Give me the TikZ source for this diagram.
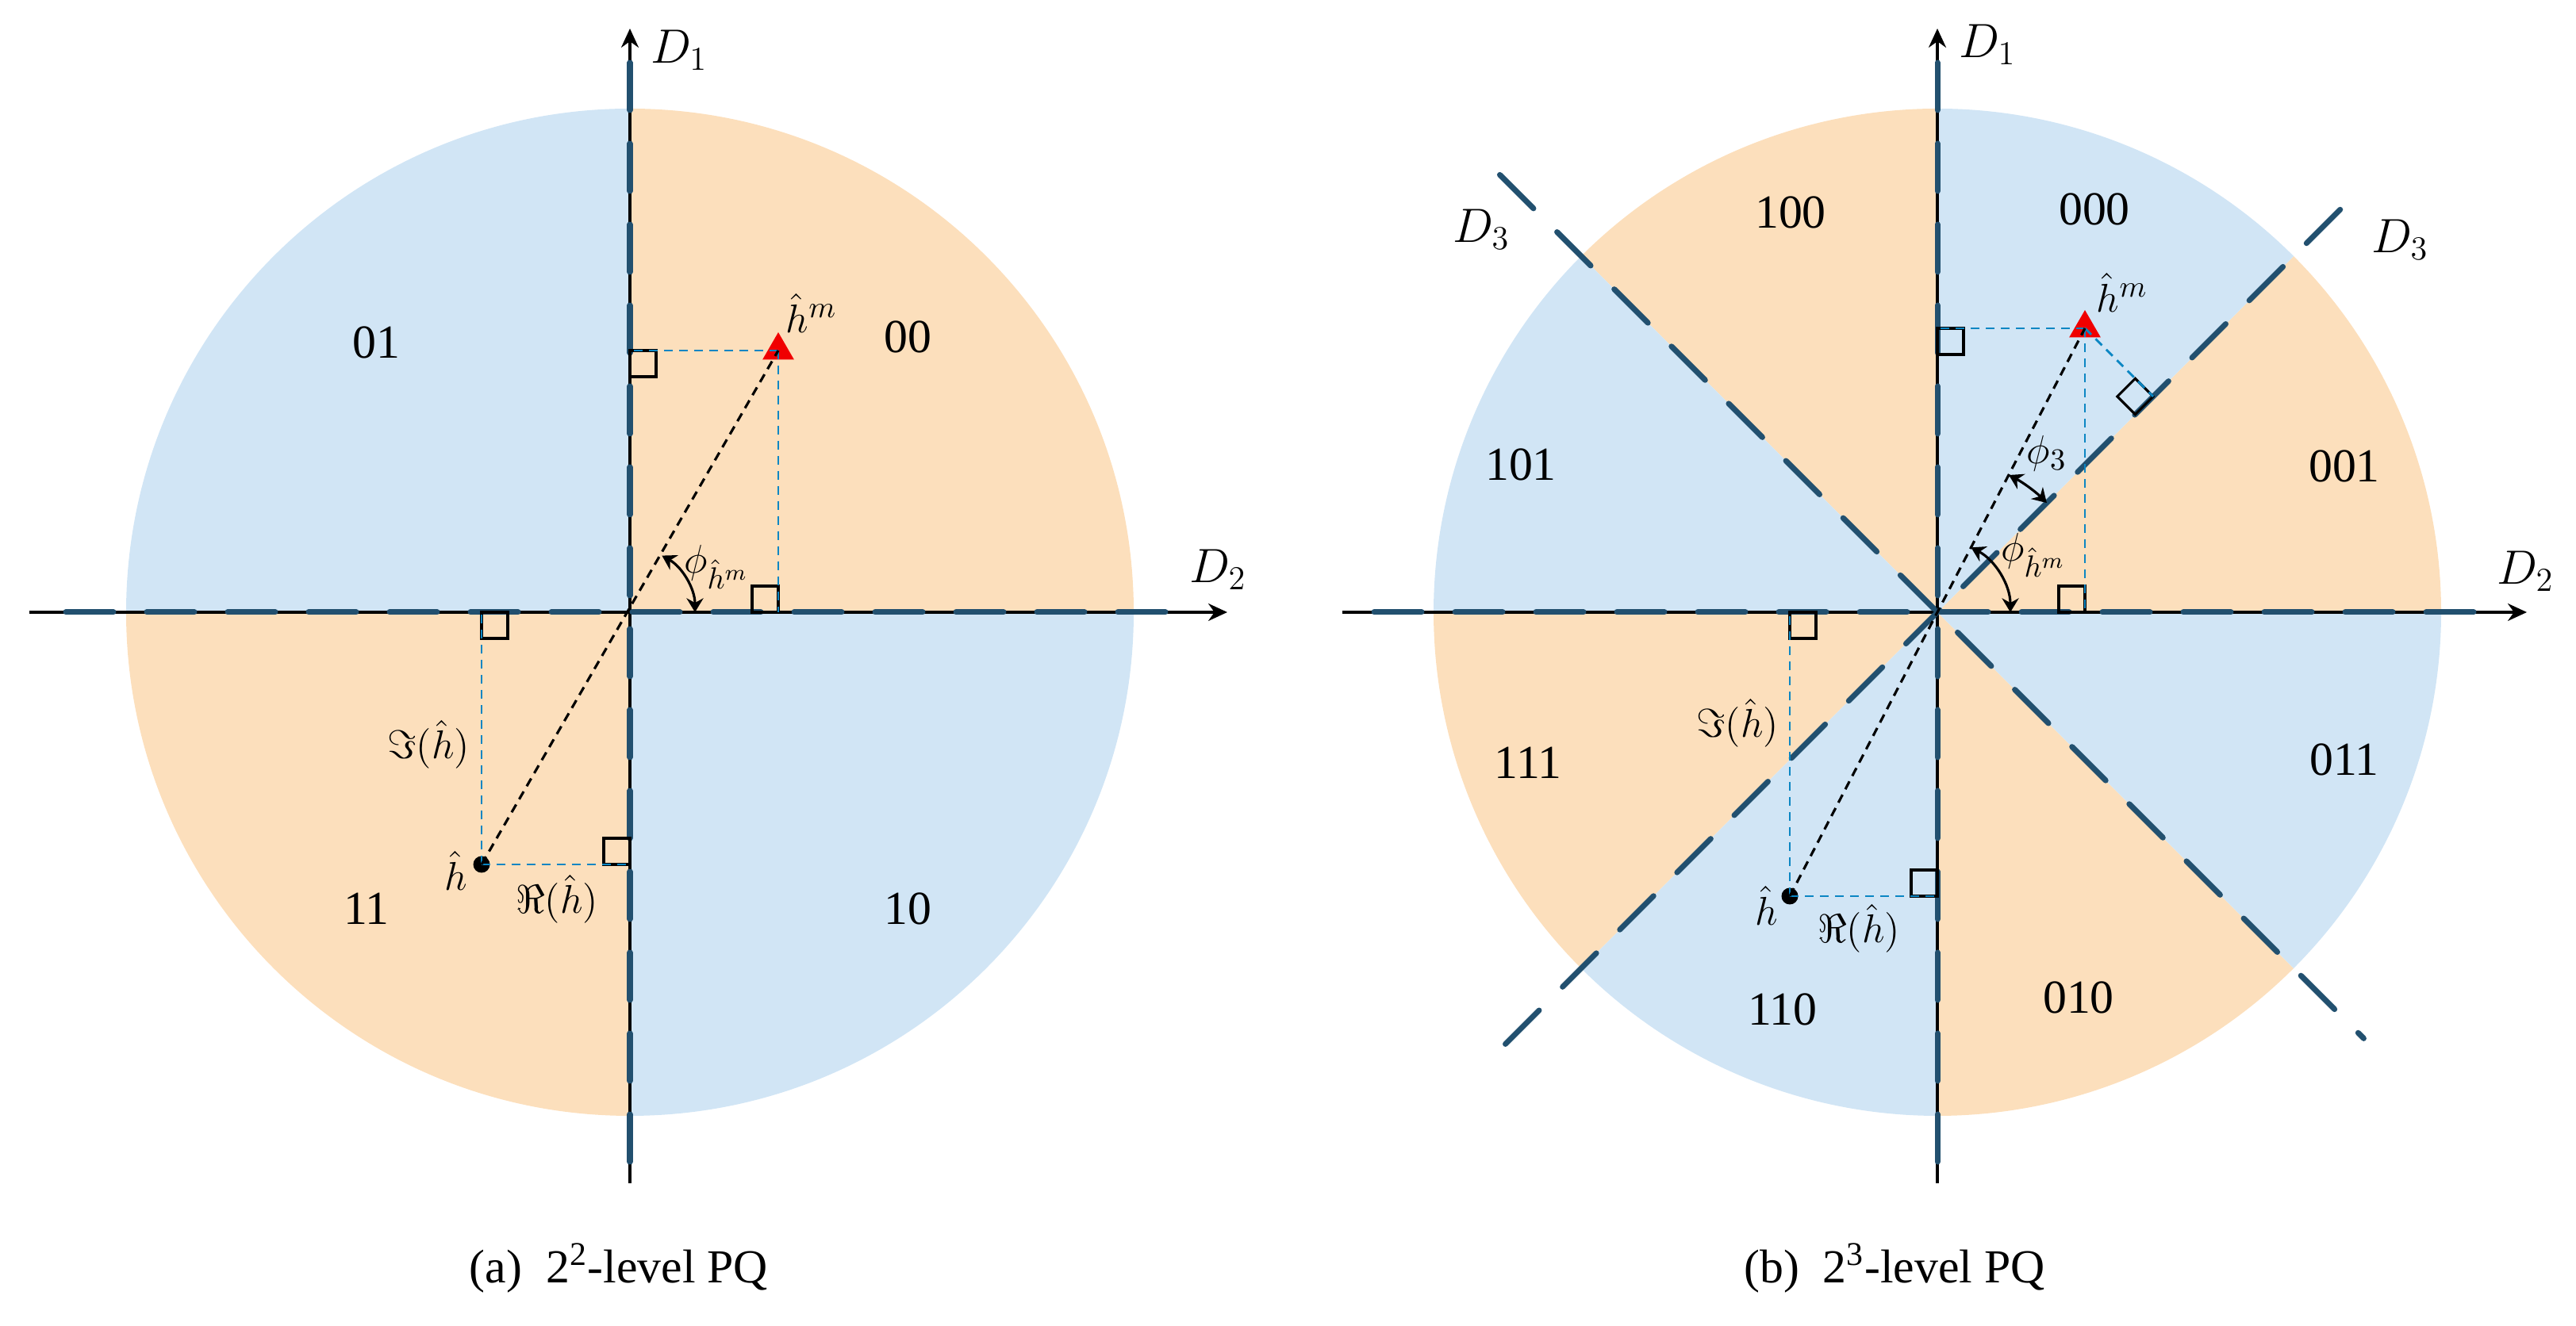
\documentclass[tikz,border=0pt]{standalone}
\usepackage[no-math]{fontspec}
\setmainfont{Liberation Serif}
\usepackage{xcolor}
\definecolor{sblue}{HTML}{D1E5F5}
\definecolor{sorange}{HTML}{FCDFBC}
\definecolor{divblue}{HTML}{22506F}
\definecolor{projblue}{HTML}{0B86C3}
\definecolor{markred}{HTML}{F00000}
\usepackage{amsmath}
\usepackage{tikz}
\usetikzlibrary{arrows.meta, positioning, shapes.geometric, calc}

\begin{document}
\begin{tikzpicture}[
  axis/.style={line width=0.9pt, -{Stealth[length=0.24cm, width=0.22cm]}},
  divline/.style={divblue, line width=2pt, line cap=round, dash pattern=on 0.6cm off 0.42cm},
  proj/.style={projblue, line width=0.8pt, dash pattern=on 3.2pt off 2.2pt},
  radial/.style={black, line width=0.9pt, dash pattern=on 3.2pt off 2.2pt},
  rmark/.style={black, line width=0.9pt},
  angarc/.style={line width=0.9pt, {Stealth[length=5pt, width=6pt]}-{Stealth[length=5pt, width=6pt]}},
  code/.style={font=\fontsize{17}{20}\selectfont},
  axlabel/.style={font=\fontsize{18}{22}\selectfont},
  mlabel/.style={font=\fontsize{15.5}{18}\selectfont},
  est/.style={regular polygon, regular polygon sides=3, fill=markred, inner sep=0pt, minimum size=0.46cm},
  meas/.style={circle, fill=black, inner sep=0pt, minimum size=0.21cm},
  caption/.style={font=\fontsize{17}{20}\selectfont}
]

\useasboundingbox (0,0) rectangle (32.47,16.72);
\def\R{6.35}

% (a) 2^2-level
\begin{scope}[shift={(7.94,9.0)}]
\coordinate (Oa) at (0,0);
% Sectors
\foreach \a/\c in {0/sorange, 90/sblue, 180/sorange, 270/sblue}
  \fill[\c] (Oa) -- (\a:\R) arc[start angle=\a, delta angle=90, radius=\R] -- cycle;

% Axes
\coordinate (xla) at (-7.57,0);
\coordinate (xra) at (7.53,0);
\coordinate (yba) at (0,-7.2);
\coordinate (yta) at (0,7.36);
\draw[axis] (xla) -- (xra);
\draw[axis] (yba) -- (yta);

% Boundaries
\draw[divline] (-7.11,0) -- (6.84,0);
\draw[divline] (0,6.93) -- (0,-6.99);

% Codewords
\node[code] (c00) at (3.50,3.47) {00};
\node[code] (c01) at (-3.20,3.40) {01};
\node[code] (c11) at (-3.32,-3.74) {11};
\node[code] (c10) at (3.50,-3.74) {10};

% Points
\node[est] (hma) at (1.87,3.30) {};
\node[meas] (ha) at (-1.87,-3.18) {};

% Right angles
\draw[rmark] (hma.center -| Oa) rectangle ++(0.33,-0.33);
\draw[rmark] (hma.center |- Oa) rectangle ++(-0.33,0.33);
\draw[rmark] (ha.center |- Oa) rectangle ++(0.33,-0.33);
\draw[rmark] (ha.center -| Oa) rectangle ++(-0.33,0.33);

% Projections
\draw[proj] (hma.center) -- (hma.center -| Oa);
\draw[proj] (hma.center) -- (hma.center |- Oa);
\draw[proj] (ha.center) -- (ha.center |- Oa);
\draw[proj] (ha.center) -- (ha.center -| Oa);
\draw[radial] (ha.center) -- (hma.center);
\draw[angarc] (0.82,0) arc[start angle=0, end angle=60.5, radius=0.82];

% Labels
\node[mlabel] (phia) at (1.09,0.57) {$\phi_{\hat{h}^m}$};
\node[mlabel] (lhma) at (2.29,3.77) {$\hat{h}^m$};
\node[mlabel] (lha) at (-2.19,-3.26) {$\hat{h}$};
\node[mlabel] (ima) at (-2.54,-1.67) {$\Im(\hat{h})$};
\node[mlabel] (rea) at (-0.92,-3.62) {$\Re(\hat{h})$};
\node[axlabel] (d1a) at (0.62,7.09) {$D_1$};
\node[axlabel] (d2a) at (7.41,0.54) {$D_2$};
\end{scope}

% (b) 2^3-level
\begin{scope}[shift={(24.42,9.0)}]
\coordinate (Ob) at (0,0);
% Sectors
\foreach \a in {0, 90, 180, 270}
  \fill[sorange] (Ob) -- (\a:\R) arc[start angle=\a, delta angle=45, radius=\R] -- cycle;
\foreach \a in {45, 135, 225, 315}
  \fill[sblue] (Ob) -- (\a:\R) arc[start angle=\a, delta angle=45, radius=\R] -- cycle;

% Axes
\coordinate (xlb) at (-7.50,0);
\coordinate (xrb) at (7.43,0);
\coordinate (ybb) at (0,-7.2);
\coordinate (ytb) at (0,7.36);
\draw[axis] (xlb) -- (xrb);
\draw[axis] (ybb) -- (ytb);

% Boundaries
\coordinate (d3b) at (45:7.5);
\draw[divline] (-7.10,0) -- (6.84,0);
\draw[divline] (0,6.93) -- (0,-6.99);
\draw[divline] (225:7.7) -- (d3b);
\draw[divline] (135:7.8) -- (315:7.6);

% Codewords
\node[code] (c000) at (1.98,5.08) {000};
\node[code] (c100) at (-1.85,5.04) {100};
\node[code] (c101) at (-5.25,1.86) {101};
\node[code] (c001) at (5.13,1.84) {001};
\node[code] (c111) at (-5.16,-1.90) {111};
\node[code] (c011) at (5.13,-1.86) {011};
\node[code] (c110) at (-1.95,-5.01) {110};
\node[code] (c010) at (1.78,-4.86) {010};

% Points
\node[est] (hmb) at (1.86,3.58) {};
\node[meas] (hb) at (-1.86,-3.58) {};
\coordinate (fb) at ($(Ob)!(hmb.center)!(d3b)$);

% Right angles
\draw[rmark] (hmb.center -| Ob) rectangle ++(0.33,-0.33);
\draw[rmark] (hmb.center |- Ob) rectangle ++(-0.33,0.33);
\draw[rmark] (hb.center |- Ob) rectangle ++(0.33,-0.33);
\draw[rmark] (hb.center -| Ob) rectangle ++(-0.33,0.33);
\draw[rmark] (fb) -- ++(135:0.32) -- ++(225:0.32) -- ++(315:0.32) -- cycle;

% Projections
\draw[proj] (hmb.center) -- (hmb.center -| Ob);
\draw[proj] (hmb.center) -- (hmb.center |- Ob);
\draw[proj] (hmb.center) -- (fb);
\draw[proj] (hb.center) -- (hb.center |- Ob);
\draw[proj] (hb.center) -- (hb.center -| Ob);
\draw[radial] (hb.center) -- (hmb.center);
\draw[angarc] (0.92,0) arc[start angle=0, end angle=62.5, radius=0.92];
\draw[angarc] (45:1.95) arc[start angle=45, end angle=62.5, radius=1.95];

% Labels
\node[mlabel] (phib) at (1.21,0.72) {$\phi_{\hat{h}^m}$};
\node[mlabel] (phi3) at (1.38,2.00) {$\phi_3$};
\node[mlabel] (lhmb) at (2.33,4.03) {$\hat{h}^m$};
\node[mlabel] (lhb) at (-2.15,-3.70) {$\hat{h}$};
\node[mlabel] (imb) at (-2.52,-1.40) {$\Im(\hat{h})$};
\node[mlabel] (reb) at (-0.99,-3.99) {$\Re(\hat{h})$};
\node[axlabel] (d1b) at (0.63,7.16) {$D_1$};
\node[axlabel] (d2b) at (7.41,0.52) {$D_2$};
\node[axlabel] (d3l) at (-5.75,4.83) {$D_3$};
\node[axlabel] (d3r) at (5.83,4.70) {$D_3$};
\end{scope}

% Captions
\node[caption] (capa) at (7.80,0.73) {(a)~~2\textsuperscript{2}-level PQ};
\node[caption] (capb) at (23.88,0.73) {(b)~~2\textsuperscript{3}-level PQ};

\end{tikzpicture}
\end{document}
